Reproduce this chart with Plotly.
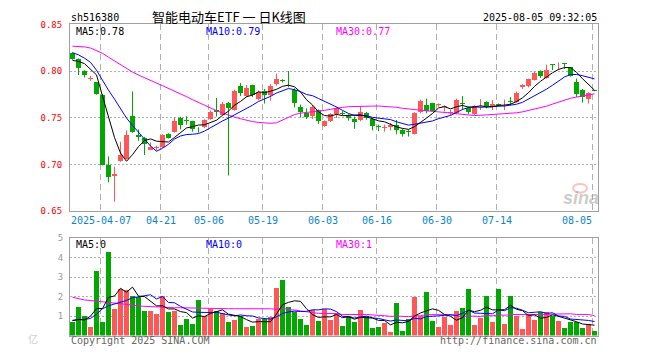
import numpy as np
import pandas as pd
import plotly.graph_objects as go

# ---------------- data ----------------
tick_idx = [5, 15, 23, 32, 42, 51, 61, 71, 87]
tick_text = ["2025-04-07", "04-21", "05-06", "05-19", "06-03", "06-16", "06-30", "07-14", "08-05"]

open_ = [0.8191, 0.8128, 0.8003, 0.7920, 0.7878, 0.7747, 0.6993, 0.6875, 0.7038, 0.7063,
         0.7514, 0.7313, 0.7288, 0.7160, 0.7174, 0.7184, 0.7323, 0.7351, 0.7497, 0.7472,
         0.7462, 0.7385, 0.7403, 0.7486, 0.7587, 0.7531, 0.7660, 0.7583, 0.7837, 0.7733,
         0.7851, 0.7705, 0.7792, 0.7747, 0.7861, 0.7906, 0.7851, 0.7802, 0.7618, 0.7549,
         0.7514, 0.7583, 0.7417, 0.7469, 0.7538, 0.7556, 0.7524, 0.7486, 0.7472, 0.7556,
         0.7486, 0.7410, 0.7389, 0.7406, 0.7427, 0.7372, 0.7358, 0.7330, 0.7566, 0.7642,
         0.7653, 0.7635, 0.7615, 0.7549, 0.7549, 0.7656, 0.7608, 0.7538, 0.7622, 0.7667,
         0.7622, 0.7646, 0.7632, 0.7681, 0.7670, 0.7830, 0.7844, 0.7906, 0.8000, 0.7931,
         0.8073, 0.8083, 0.8083, 0.8042, 0.7878, 0.7802, 0.7698, 0.7795]
high = [0.8201, 0.8135, 0.8010, 0.7948, 0.7885, 0.7753, 0.7087, 0.6976, 0.7243, 0.7365,
        0.7781, 0.7375, 0.7295, 0.7236, 0.7201, 0.7323, 0.7333, 0.7503, 0.7510, 0.7517,
        0.7469, 0.7399, 0.7483, 0.7580, 0.7712, 0.7670, 0.7670, 0.7802, 0.7872, 0.7851,
        0.7854, 0.7792, 0.7809, 0.7861, 0.7972, 0.7913, 0.8000, 0.7816, 0.7642, 0.7601,
        0.7635, 0.7590, 0.7472, 0.7549, 0.7615, 0.7573, 0.7538, 0.7514, 0.7625, 0.7562,
        0.7497, 0.7427, 0.7427, 0.7444, 0.7476, 0.7385, 0.7375, 0.7559, 0.7694, 0.7705,
        0.7660, 0.7653, 0.7635, 0.7583, 0.7705, 0.7733, 0.7618, 0.7635, 0.7698, 0.7677,
        0.7688, 0.7653, 0.7694, 0.7722, 0.7781, 0.7861, 0.7920, 0.7997, 0.8007, 0.8069,
        0.8076, 0.8094, 0.8087, 0.8045, 0.7920, 0.7809, 0.7774, 0.7798]
low = [0.8122, 0.7958, 0.7931, 0.7896, 0.7747, 0.6990, 0.6809, 0.6601, 0.7028, 0.7052,
       0.7340, 0.7253, 0.7101, 0.7156, 0.7149, 0.7177, 0.7278, 0.7340, 0.7375, 0.7427,
       0.7351, 0.7340, 0.7392, 0.7479, 0.7514, 0.7524, 0.6882, 0.7576, 0.7733, 0.7722,
       0.7722, 0.7688, 0.7653, 0.7684, 0.7844, 0.7878, 0.7826, 0.7611, 0.7503, 0.7486,
       0.7486, 0.7434, 0.7403, 0.7455, 0.7497, 0.7524, 0.7469, 0.7382, 0.7462, 0.7479,
       0.7365, 0.7358, 0.7351, 0.7365, 0.7323, 0.7299, 0.7299, 0.7323, 0.7549, 0.7549,
       0.7566, 0.7618, 0.7566, 0.7524, 0.7538, 0.7583, 0.7538, 0.7531, 0.7583, 0.7601,
       0.7583, 0.7618, 0.7583, 0.7635, 0.7660, 0.7809, 0.7826, 0.7899, 0.7927, 0.7920,
       0.8010, 0.8010, 0.8024, 0.7941, 0.7722, 0.7663, 0.7653, 0.7785]
close = [0.8132, 0.8028, 0.7955, 0.7927, 0.7757, 0.6997, 0.6865, 0.6896, 0.7097, 0.7313,
         0.7351, 0.7299, 0.7215, 0.7191, 0.7191, 0.7316, 0.7288, 0.7462, 0.7424, 0.7465,
         0.7385, 0.7375, 0.7476, 0.7566, 0.7566, 0.7649, 0.7601, 0.7792, 0.7767, 0.7816,
         0.7740, 0.7774, 0.7747, 0.7844, 0.7920, 0.7899, 0.7837, 0.7660, 0.7566, 0.7507,
         0.7615, 0.7469, 0.7462, 0.7538, 0.7601, 0.7542, 0.7497, 0.7455, 0.7566, 0.7497,
         0.7413, 0.7403, 0.7406, 0.7427, 0.7365, 0.7330, 0.7351, 0.7549, 0.7681, 0.7573,
         0.7576, 0.7646, 0.7622, 0.7559, 0.7688, 0.7646, 0.7559, 0.7625, 0.7628, 0.7625,
         0.7649, 0.7639, 0.7639, 0.7674, 0.7767, 0.7851, 0.7913, 0.7976, 0.7948, 0.8010,
         0.8066, 0.8090, 0.8076, 0.7948, 0.7757, 0.7722, 0.7764, 0.7788]
volume = [0.72, 1.46, 1.00, 0.46, 3.31, 0.72, 4.32, 1.37, 2.42, 2.32,
          2.03, 2.00, 1.25, 1.25, 1.12, 2.03, 1.20, 1.25, 0.56, 0.86,
          0.62, 1.81, 1.03, 1.38, 1.24, 1.15, 0.70, 0.80, 1.00, 0.45,
          0.50, 0.83, 0.83, 0.95, 2.43, 2.87, 1.45, 1.23, 0.83, 0.53,
          1.33, 0.75, 1.37, 0.82, 1.15, 0.50, 1.03, 0.70, 1.33, 1.03,
          0.40, 0.45, 0.67, 0.20, 1.70, 0.25, 0.83, 2.00, 1.03, 2.25,
          0.75, 0.45, 0.95, 0.55, 1.25, 1.40, 2.40, 0.55, 0.90, 2.05,
          0.70, 2.40, 0.60, 2.05, 1.00, 0.35, 1.12, 0.80, 1.20, 1.20,
          1.00, 0.75, 0.40, 0.70, 0.72, 0.40, 0.60, 0.25]

# moving-average values before enough history exists
ma5_head = [0.8115, 0.8104, 0.8080, 0.8024]
ma10_head = [0.8198, 0.8174, 0.8139, 0.8094, 0.8010, 0.7900, 0.7795, 0.7700, 0.7605]
ma30_head = [0.8267, 0.8264, 0.8260, 0.8247, 0.8222, 0.8191, 0.8149, 0.8108, 0.8066, 0.8024,
             0.7990, 0.7958, 0.7927, 0.7899, 0.7872, 0.7844, 0.7816, 0.7788, 0.7757, 0.7726,
             0.7694, 0.7663, 0.7632, 0.7601, 0.7576, 0.7552, 0.7528, 0.7507, 0.7490]
vma5_head = [0.77, 0.82, 0.80, 1.00]
vma10_head = [0.78, 0.83, 0.83, 0.88, 1.10, 1.38, 1.53, 1.62, 1.68]
vma30_head = [1.97, 1.88, 1.83, 1.80, 1.77, 1.75, 1.72, 1.68, 1.65, 1.62,
              1.57, 1.52, 1.50, 1.48, 1.47, 1.45, 1.45, 1.43, 1.43, 1.42,
              1.40, 1.40, 1.40, 1.38, 1.38, 1.38, 1.38, 1.38, 1.38]

# ---------------- derived series ----------------
o = np.array(open_); h = np.array(high); l = np.array(low); c = np.array(close)
v = np.array(volume)
n = len(c)
idx = np.arange(n)


def moving(series, win, head):
    m = pd.Series(series).rolling(win).mean().to_numpy()
    m[:len(head)] = head
    return m


ma5 = moving(c, 5, ma5_head)
ma10 = moving(c, 10, ma10_head)
ma30 = moving(c, 30, ma30_head)
vma5 = moving(v, 5, vma5_head)
vma10 = moving(v, 10, vma10_head)
vma30 = moving(v, 30, vma30_head)

RED = "#ff5757"
GREEN = "#00a800"
up = c >= o
colors = [RED if u else GREEN for u in up]

W, H = 660, 360


def px(x):
    return x / W


def py(y):
    return 1 - y / H


fig = go.Figure()

# candle bodies
body_base = np.minimum(o, c)
body_h = np.maximum(np.abs(c - o), 0.0008)
fig.add_trace(go.Bar(x=idx, y=body_h, base=body_base, width=5 / 6,
                     marker=dict(color=colors, line=dict(width=0)),
                     xaxis="x", yaxis="y", hoverinfo="skip"))

# wicks
for flag, col in ((True, RED), (False, GREEN)):
    xs, ys = [], []
    for i in idx:
        if up[i] == flag:
            xs += [i, i, None]
            ys += [l[i], h[i], None]
    fig.add_trace(go.Scatter(x=xs, y=ys, mode="lines", line=dict(color=col, width=1),
                             xaxis="x", yaxis="y", hoverinfo="skip"))

# price MAs
for m, col in ((ma30, "#ff00ff"), (ma10, "#0000ff"), (ma5, "#000000")):
    fig.add_trace(go.Scatter(x=idx, y=m, mode="lines", line=dict(color=col, width=1),
                             xaxis="x", yaxis="y", hoverinfo="skip"))

# volume bars
fig.add_trace(go.Bar(x=idx, y=v, width=5 / 6, marker=dict(color=colors, line=dict(width=0)),
                     xaxis="x2", yaxis="y2", hoverinfo="skip"))
for m, col in ((vma30, "#ff00ff"), (vma10, "#0000ff"), (vma5, "#000000")):
    fig.add_trace(go.Scatter(x=idx, y=m, mode="lines", line=dict(color=col, width=1),
                             xaxis="x2", yaxis="y2", hoverinfo="skip"))

grid_x = [t - 1 / 3 for t in tick_idx]
xr = [-2.5 / 6, n - 2.5 / 6]
BORDER = "#a0a0a0"
GRID = "#b0b0b0"
MONO = "DejaVu Sans Mono"

xcommon = dict(range=xr, domain=[px(70), px(598)], tickvals=grid_x, showticklabels=False,
               showgrid=True, gridcolor=GRID, griddash="6px,4px", gridwidth=1,
               showline=True, mirror=True, linecolor=BORDER, linewidth=1,
               zeroline=False, ticks="", fixedrange=True)

fig.update_layout(
    width=W, height=H, margin=dict(l=0, r=0, t=0, b=0),
    paper_bgcolor="white", plot_bgcolor="white", showlegend=False,
    barmode="overlay", bargap=0,
    xaxis=dict(anchor="y", **xcommon),
    xaxis2=dict(anchor="y2", matches="x", **xcommon),
    yaxis=dict(domain=[py(212), py(20)], range=[0.65, 0.85],
               tickvals=[0.65, 0.70, 0.75, 0.80, 0.85],
               ticktext=["0.65", "0.70", "0.75", "0.80", "0.85"],
               tickfont=dict(family=MONO, size=9, color="#ff0000"),
               showgrid=True, gridcolor=GRID, griddash="2px,2px",
               showline=True, mirror=True, linecolor=BORDER, linewidth=1,
               zeroline=False, ticks="", ticklabelstandoff=5, fixedrange=True),
    yaxis2=dict(domain=[py(340), py(240)], range=[0, 5],
                tickvals=[1, 2, 3, 4, 5], ticktext=["1", "2", "3", "4", "5"],
                tickfont=dict(family=MONO, size=9, color="#999999"),
                showgrid=True, gridcolor=GRID, griddash="2px,2px",
                showline=True, mirror=True, linecolor=BORDER, linewidth=1,
                zeroline=False, ticks="", ticklabelstandoff=4, fixedrange=True),
)

ann = []


def txt(text, x, y, anchor="left", color="#000000", size=10, family=MONO, **kw):
    ann.append(dict(text=text, x=px(x), y=py(y), xref="paper", yref="paper",
                    xanchor=anchor, yanchor="middle", showarrow=False, borderpad=0,
                    font=dict(family=family, size=size, color=color), **kw))


txt("sh516380", 70, 13)
txt("智能电动车ETF&nbsp;一&nbsp;日K线图", 229, 12, anchor="center", size=13,
    family="Noto Sans CJK SC")
txt("2025-08-05 09:32:05", 598, 13, anchor="right")
txt("MA5:0.78", 75, 27)
txt("MA10:0.79", 205, 27, color="#0000ff")
txt("MA30:0.77", 335, 27, color="#ff00ff")
txt("MA5:0", 75, 246.5)
txt("MA10:0", 205, 246.5, color="#0000ff")
txt("MA30:1", 335, 246.5, color="#ff00ff")
txt("Copyright 2025 SINA.COM", 70, 345.5, color="#666666")
txt("http://finance.sina.com.cn", 598, 345.5, anchor="right", color="#666666")
txt("亿", 33, 343, anchor="center", color="#d0d0d0", size=10, family="Noto Sans CJK SC")
txt("<b><i>sina</i></b>", 581, 198, anchor="center", color="rgba(160,160,160,0.55)",
    size=18, family="Liberation Sans")

# x tick labels under the price panel
for t, lab in zip(grid_x, tick_text):
    last = lab == tick_text[-1]
    ann.append(dict(text=lab, x=t, y=py(222), xref="x", yref="paper",
                    xanchor="right" if last else "center", yanchor="middle",
                    showarrow=False, borderpad=0,
                    font=dict(family=MONO, size=10, color="#0a84d0")))

fig.update_layout(annotations=ann)

# faint red "eye" of the watermark
fig.add_shape(type="circle", xref="paper", yref="paper",
              x0=px(573), x1=px(587), y0=py(193), y1=py(184),
              line=dict(color="rgba(255,80,80,0.35)", width=2))

fig.write_html("out.html", config={"staticPlot": True},
               post_script="document.body.style.margin='0';")
